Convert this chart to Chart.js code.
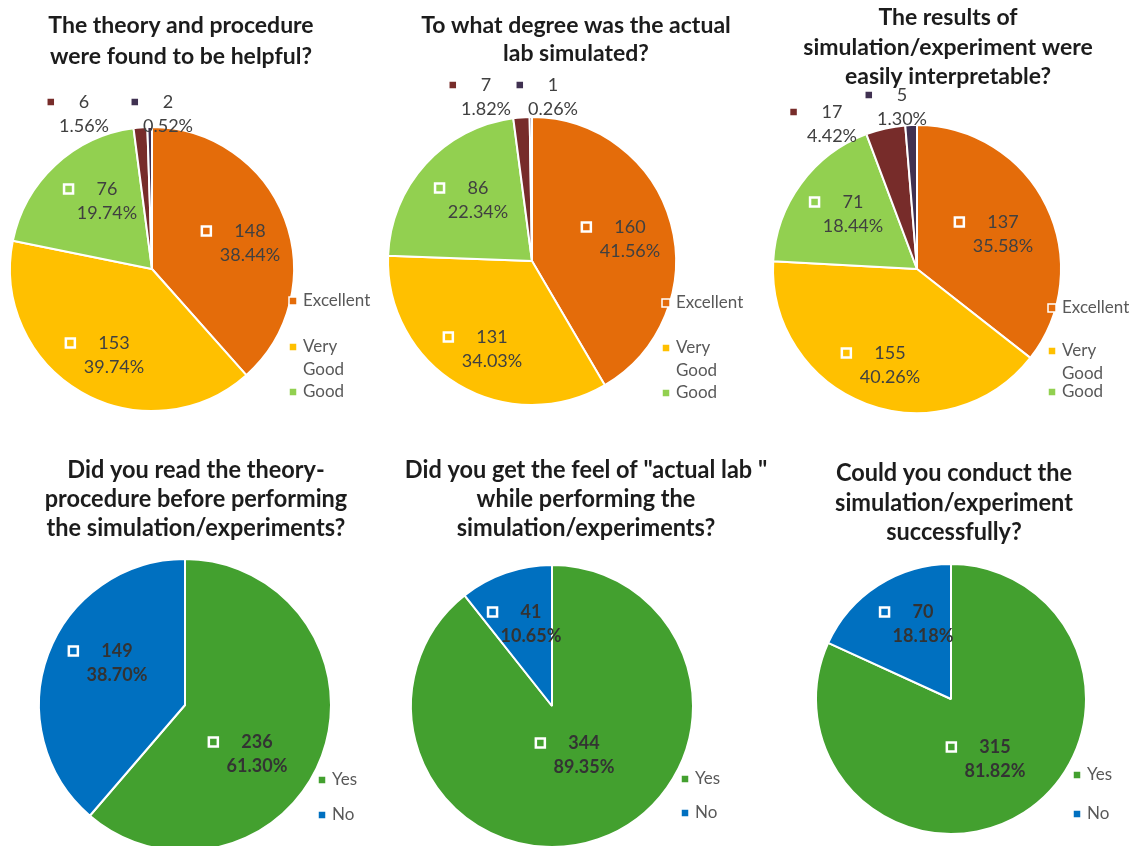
<!DOCTYPE html>
<html>
<head>
<meta charset="utf-8">
<script src="https://cdn.jsdelivr.net/npm/chart.js@4.4.0/dist/chart.umd.min.js"></script>
<style>
    html, body { margin: 0; padding: 0; background: #fff; overflow: hidden; }
    #wrap { position: relative; width: 1136px; height: 846px; overflow: hidden; }
    #wrap canvas { position: absolute; left: 0; top: 0; }
</style>
</head>
<body>
<div id="wrap">
    <canvas id="c1" width="1136" height="900"></canvas>
    <canvas id="c2" width="1136" height="900"></canvas>
    <canvas id="c3" width="1136" height="900"></canvas>
    <canvas id="c4" width="1136" height="900"></canvas>
    <canvas id="c5" width="1136" height="900"></canvas>
    <canvas id="c6" width="1136" height="900"></canvas>
</div>
<script>
// --  survey answers  --
const ratingLabels = ['Excellent', 'Very Good', 'Good', 'Average', 'Poor']
const ratingColors = ['#E46C0A', '#FFC000', '#92D050', '#772C2A', '#403151']
const helpfulCounts = [148, 153, 76, 6, 2]
const simulatedCounts = [160, 131, 86, 7, 1]
const interpretCounts = [137, 155, 71, 17, 5]

const yesNoLabels = ['Yes', 'No']
const yesNoColors = ['#43A02F', '#0070C0']
const readTheoryCounts = [236, 149]
const feelLabCounts = [344, 41]
const conductCounts = [315, 70]

const titleLines = [
    ['The theory and procedure', 'were found to be helpful?'],
    ['To what degree was the actual', 'lab simulated?'],
    ['The results of', 'simulation/experiment were', 'easily interpretable?'],
    ['Did you read the theory-', 'procedure before performing', 'the simulation/experiments?'],
    ['Did you get the feel of "actual lab "', 'while performing the', 'simulation/experiments?'],
    ['Could you conduct the', 'simulation/experiment', 'successfully?']
]

// where each pie sits and where its texts go (canvas pixels)
const W = 1136, H = 900
const layouts = [
    { id: 'c1', cx: 152, cy: 269, r: 142, titleX: 181, titleY: [26, 57], condensed: false,
      labelAt: [[250, 231], [114, 343], [107, 189], [84, 102], [168, 102]],
      legendX: 293, legendY: [301, 347, 392] },
    { id: 'c2', cx: 532, cy: 261, r: 144, titleX: 576, titleY: [26, 54], condensed: false,
      labelAt: [[630, 227], [492, 337], [478, 188], [486, 85], [553, 85]],
      legendX: 666, legendY: [303, 348, 393] },
    { id: 'c3', cx: 917, cy: 269, r: 144, titleX: 948, titleY: [18, 48, 77], condensed: false,
      labelAt: [[1003, 222], [890, 353], [853, 202], [832, 112], [902, 95]],
      legendX: 1052, legendY: [308, 351, 392] },
    { id: 'c4', cx: 185, cy: 705, r: 146, titleX: 196, titleY: [470, 499, 528], condensed: true,
      labelAt: [[257, 742], [117, 651]],
      legendX: 322, legendY: [780, 815] },
    { id: 'c5', cx: 552, cy: 706, r: 141, titleX: 586, titleY: [470, 499, 528], condensed: true,
      labelAt: [[584, 743], [531, 612]],
      legendX: 685, legendY: [779, 813] },
    { id: 'c6', cx: 951, cy: 699, r: 135, titleX: 954, titleY: [473, 503, 532], condensed: true,
      labelAt: [[995, 747], [923, 612]],
      legendX: 1077, legendY: [775, 814] }
]

const chartSets = [
    { labels: ratingLabels, colors: ratingColors, counts: helpfulCounts, legendCount: 3 },
    { labels: ratingLabels, colors: ratingColors, counts: simulatedCounts, legendCount: 3 },
    { labels: ratingLabels, colors: ratingColors, counts: interpretCounts, legendCount: 3 },
    { labels: yesNoLabels, colors: yesNoColors, counts: readTheoryCounts, legendCount: 2 },
    { labels: yesNoLabels, colors: yesNoColors, counts: feelLabCounts, legendCount: 2 },
    { labels: yesNoLabels, colors: yesNoColors, counts: conductCounts, legendCount: 2 }
]

function drawKey (ctx, x, y, size, color, stroke) {
    // small coloured square with a white rim
    ctx.fillStyle = color
    ctx.fillRect(x - size / 2, y - size / 2, size, size)
    ctx.strokeStyle = '#fff'
    ctx.lineWidth = stroke
    ctx.strokeRect(x - size / 2, y - size / 2, size, size)
}

// titles, value labels and the (clipped) legend are drawn on top of the pie
const surveyDecor = {
    id: 'surveyDecor',
    afterDraw (chart, args, opts) {
        const ctx = chart.ctx
        const lay = opts.layout
        const set = opts.set
        const total = set.counts.reduce((a, b) => a + b, 0)

        ctx.save()
        // title
        ctx.fillStyle = '#1c1c1c'
        ctx.textAlign = 'center'
        ctx.textBaseline = 'middle'
        opts.title.forEach((line, i) => {
            ctx.save()
            ctx.translate(lay.titleX, lay.titleY[i])
            if (lay.condensed) {
                ctx.font = 'bold 25px Lato'
                ctx.scale(0.94, 1)
            } else {
                ctx.font = 'bold 23px Lato'
            }
            ctx.fillText(line, 0, 0)
            ctx.restore()
        })

        // value + percentage labels
        const labelFont = lay.condensed ? 'bold 18px Lato' : '18px Lato'
        set.counts.forEach((v, i) => {
            const [x, y] = lay.labelAt[i]
            const pct = (v / total * 100).toFixed(2) + '%'
            ctx.font = labelFont
            ctx.fillStyle = lay.condensed ? '#333333' : '#404040'
            ctx.textAlign = 'center'
            ctx.fillText(String(v), x, y)
            ctx.fillText(pct, x, y + 24)
            const w = ctx.measureText(String(v)).width
            drawKey(ctx, x - w / 2 - 28, y, 9, set.colors[i], 2.5)
        })

        // legend
        ctx.font = '17px Lato'
        ctx.textAlign = 'left'
        for (let i = 0; i < set.legendCount; i++) {
            const y = lay.legendY[i]
            drawKey(ctx, lay.legendX, y, 8, set.colors[i], 1.5)
            ctx.fillStyle = '#595959'
            const words = set.labels[i].split(' ')
            if (words.length > 1) {
                ctx.fillText(words[0], lay.legendX + 10, y)
                ctx.fillText(words.slice(1).join(' '), lay.legendX + 10, y + 23)
            } else {
                ctx.fillText(set.labels[i], lay.legendX + 10, y)
            }
        }
        ctx.restore()
    }
}

layouts.forEach((lay, n) => {
    const set = chartSets[n]
    const pad = 4
    new Chart(document.getElementById(lay.id), {
        type: 'pie',
        data: {
            labels: set.labels,
            datasets: [{
                data: set.counts,
                backgroundColor: set.colors,
                borderColor: '#ffffff',
                borderWidth: 2
            }]
        },
        options: {
            responsive: false,
            animation: false,
            events: [],
            radius: lay.r,
            layout: {
                padding: {
                    left: lay.cx - lay.r - pad,
                    right: W - lay.cx - lay.r - pad,
                    top: lay.cy - lay.r - pad,
                    bottom: H - lay.cy - lay.r - pad
                }
            },
            plugins: {
                legend: { display: false },
                tooltip: { enabled: false },
                surveyDecor: { layout: lay, set: set, title: titleLines[n] }
            }
        },
        plugins: [surveyDecor]
    })
})
</script>
</body>
</html>
